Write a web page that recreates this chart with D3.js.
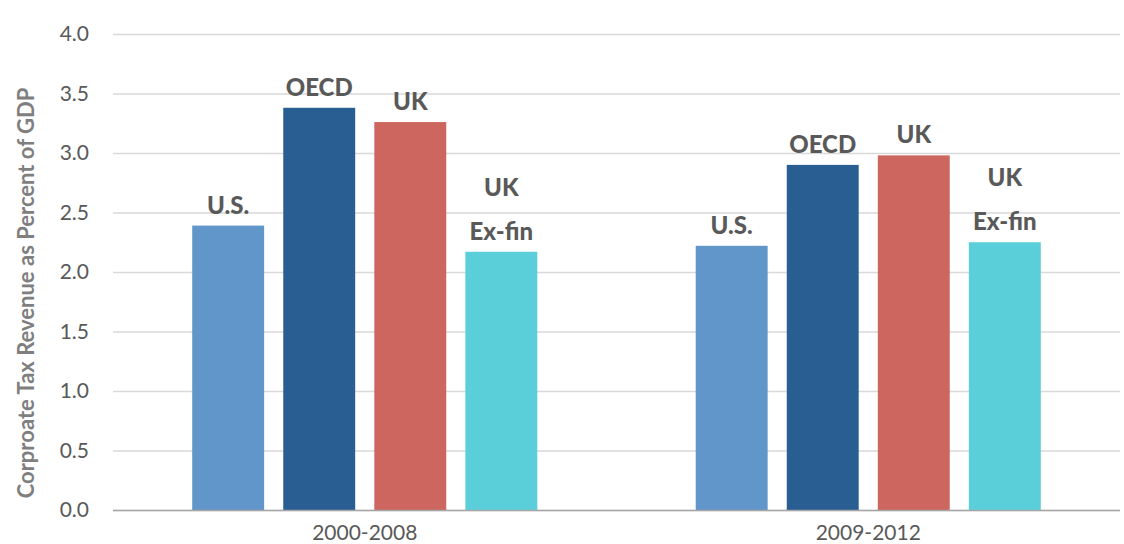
<!DOCTYPE html>
<html>
<head>
<meta charset="utf-8">
<script src="https://cdn.jsdelivr.net/npm/d3@7"></script>
<style>
  body { margin: 0; background: #fff; }
  svg text { font-family: Lato, "Open Sans", sans-serif; }
</style>
</head>
<body>
<div id="chart"></div>
<script>
// Data
const periods = ["2000-2008", "2009-2012"];
const seriesNames = ["U.S.", "OECD", "UK", "UK Ex-fin"];
const seriesLabels = [["U.S."], ["OECD"], ["UK"], ["UK", "Ex-fin"]];
const usValues = [2.39, 2.22];
const oecdValues = [3.38, 2.90];
const ukValues = [3.26, 2.98];
const ukExFinValues = [2.17, 2.25];
const yTicks = [0, 0.5, 1.0, 1.5, 2.0, 2.5, 3.0, 3.5, 4.0];

const colors = ["#6096c9", "#285e91", "#cd665f", "#5acfda"];
const allValues = [usValues, oecdValues, ukValues, ukExFinValues];

const width = 1124, height = 544;
const margin = {top: 34, right: 4, bottom: 34, left: 113};
const font = 'Lato, "Open Sans", sans-serif';

const svg = d3.select("#chart")
    .append("svg")
    .attr("width", width)
    .attr("height", height);

const x0 = d3.scaleBand()
    .domain(periods)
    .range([margin.left, width - margin.right])
    .padding(0);

const x1 = d3.scaleBand()
    .domain(seriesNames)
    .range([0, x0.bandwidth()])
    .paddingInner(0.21)
    .paddingOuter(0.87);

const y = d3.scaleLinear()
    .domain([0, 4])
    .range([height - margin.bottom, margin.top]);

// Gridlines + y tick labels
const yAxis = svg.append("g")
    .attr("transform", `translate(${margin.left},0)`)
    .call(d3.axisLeft(y).tickValues(yTicks).tickFormat(d3.format(".1f"))
        .tickSize(-(width - margin.right - margin.left)).tickPadding(24));
yAxis.attr("font-family", font);
yAxis.select(".domain").remove();
yAxis.selectAll(".tick line").attr("stroke", "#d9d9d9").attr("stroke-width", 1.5);
yAxis.selectAll(".tick text")
    .attr("fill", "#595959")
    .style("font-size", "21px");

// Bars
const rows = [];
periods.forEach((p, i) => {
    seriesNames.forEach((s, j) => {
        rows.push({period: p, series: s, idx: j, value: allValues[j][i]});
    });
});

svg.append("g").selectAll("rect")
    .data(rows)
    .enter()
    .append("rect")
    .attr("x", d => x0(d.period) + x1(d.series))
    .attr("y", d => y(d.value))
    .attr("width", x1.bandwidth())
    .attr("height", d => y(0) - y(d.value))
    .attr("fill", d => colors[d.idx]);

// Baseline
svg.append("line")
    .attr("x1", margin.left)
    .attr("x2", width - margin.right)
    .attr("y1", y(0) + 0.5)
    .attr("y2", y(0) + 0.5)
    .attr("stroke", "#a6a6a6")
    .attr("stroke-width", 1.5);

// Bar labels
const labelG = svg.append("g");
rows.forEach(d => {
    const lines = seriesLabels[d.idx];
    const cx = x0(d.period) + x1(d.series) + x1.bandwidth() / 2;
    lines.forEach((t, k) => {
        labelG.append("text")
            .attr("x", cx)
            .attr("y", y(d.value) - 12 - (lines.length - 1 - k) * 44)
            .attr("text-anchor", "middle")
            .attr("fill", "#595959")
            .style("font-size", "24px")
            .style("font-weight", "900")
            .text(t);
    });
});

// X axis labels
const xAxis = svg.append("g")
    .attr("transform", `translate(0,${y(0)})`)
    .call(d3.axisBottom(x0).tickSize(0).tickPadding(15));
xAxis.attr("font-family", font);
xAxis.select(".domain").remove();
xAxis.selectAll("text")
    .attr("fill", "#595959")
    .style("font-size", "21px");

// Y axis title
svg.append("text")
    .attr("transform", `translate(34,293) rotate(-90)`)
    .attr("text-anchor", "middle")
    .attr("fill", "#7f7f7f")
    .style("font-size", "22px")
    .style("font-weight", "bold")
    .text("Corproate Tax Revenue as Percent of GDP");
</script>
</body>
</html>
